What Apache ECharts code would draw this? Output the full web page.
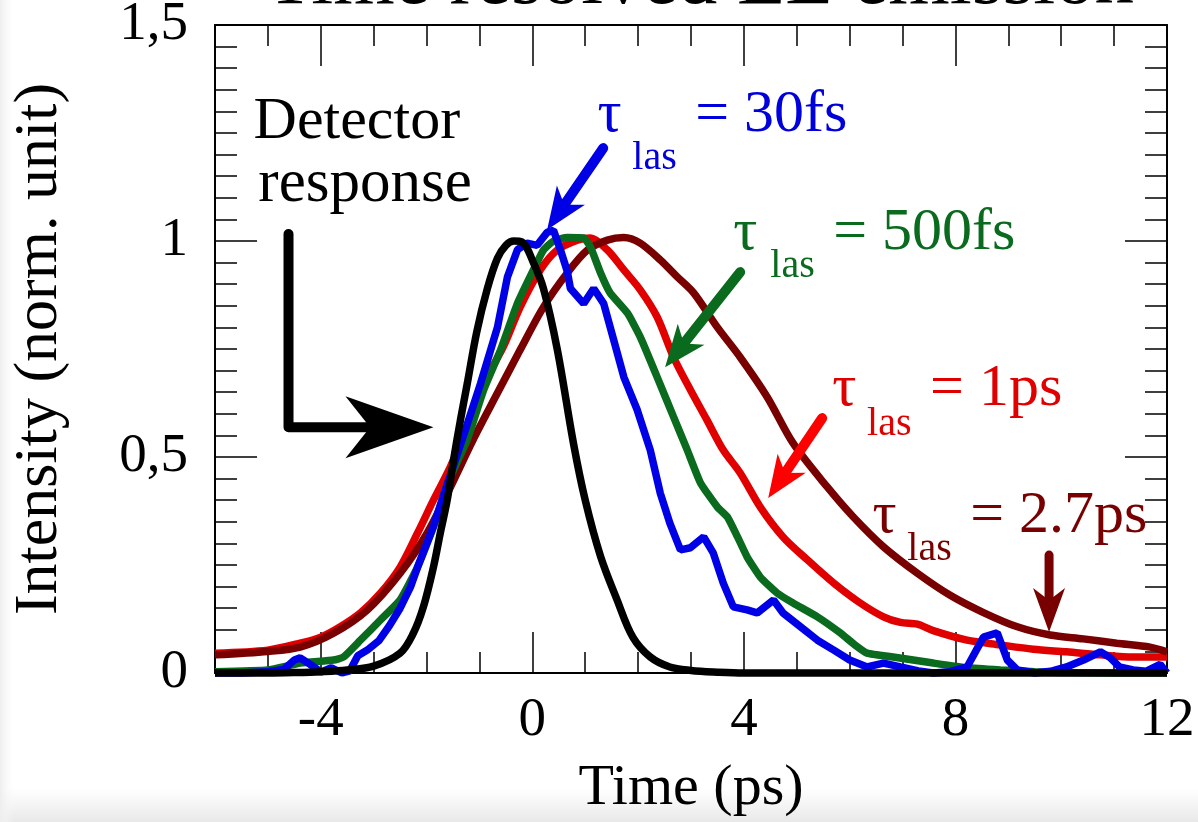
<!DOCTYPE html>
<html><head><meta charset="utf-8">
<script src="https://cdn.jsdelivr.net/npm/echarts@6/dist/echarts.min.js"></script>
<style>html,body{margin:0;padding:0;background:#fff;overflow:hidden;}#c{width:1198px;height:822px;}</style>
</head><body><div id="c"></div><script>
const FONT = 'Liberation Serif';

// ---- tick labels ----
const xMajorTicks = [-4, 0, 4, 8, 12];
const xLabelTicks = [-4, 0, 4, 8, 12];

// ---- detector response (black) ----
const detT = [-6,-5,-4.5,-4,-3.5,-3,-2.5,-2.25,-2.06,-1.87,-1.74,-1.61,-1.49,-1.36,-1.23,-1.05,-0.85,-0.66,-0.5,-0.35,-0.2,0.02,0.21,0.47,0.78,1.0,1.29,1.6,1.9,2.23,2.6,3.0,3.5,4,6,8,10,12];
const detI = [0,0,0.001,0.003,0.007,0.016,0.046,0.092,0.153,0.245,0.324,0.40,0.493,0.585,0.67,0.79,0.89,0.96,0.99,1.0,0.998,0.95,0.89,0.75,0.53,0.40,0.27,0.17,0.083,0.037,0.014,0.006,0.002,0,0,0,0,0];

// ---- tau_las = 30 fs (blue) ----
const fs30T = [-6,-5.5,-5,-4.7,-4.5,-4.39,-4.2,-4.0,-3.8,-3.6,-3.45,-3.3,-3.12,-2.9,-2.7,-2.5,-2.3,-2.17,-1.87,-1.6,-1.3,-0.98,-0.66,-0.47,-0.28,-0.1,0.09,0.28,0.4,0.53,0.66,0.72,0.97,1.16,1.35,1.54,1.73,1.98,2.23,2.42,2.6,2.8,2.99,3.24,3.42,3.61,3.8,4.06,4.25,4.56,4.74,5.07,5.39,5.7,6.0,6.33,6.64,6.96,7.3,7.58,7.9,8.22,8.53,8.79,8.98,9.17,9.5,9.8,10.1,10.42,10.74,10.93,11.1,11.36,11.6,11.87,12];
const fs30I = [0,0,0.003,0.008,0.03,0.035,0.02,0.002,0.012,0,0.005,0.04,0.053,0.075,0.11,0.15,0.2,0.245,0.34,0.44,0.55,0.67,0.80,0.917,0.98,0.995,0.99,1.02,1.025,0.98,0.93,0.89,0.855,0.89,0.855,0.77,0.685,0.61,0.516,0.416,0.347,0.285,0.29,0.315,0.278,0.208,0.153,0.146,0.139,0.169,0.139,0.107,0.076,0.053,0.03,0.014,0.023,0.014,0.005,0,0.003,0.014,0.083,0.093,0.03,0.007,0,0.004,0.014,0.03,0.049,0.035,0.014,0.007,0.004,0.02,0];

// ---- tau_las = 500 fs (green) ----
const fs500T = [-6,-5,-4.39,-3.76,-3.57,-3.25,-2.87,-2.5,-2.17,-1.87,-1.6,-1.23,-0.92,-0.6,-0.28,0.02,0.21,0.4,0.66,0.97,1.1,1.29,1.47,1.8,2.04,2.36,2.67,2.93,3.18,3.5,3.69,3.88,4.06,4.31,4.63,4.93,5.39,5.82,6.1,6.33,6.82,7.58,8.22,8.85,9.5,10,11,12];
const fs500I = [0.003,0.007,0.023,0.03,0.037,0.076,0.123,0.169,0.245,0.338,0.44,0.54,0.655,0.748,0.856,0.933,0.979,1.0,1.008,1.007,0.986,0.926,0.88,0.833,0.778,0.685,0.593,0.516,0.44,0.384,0.361,0.315,0.269,0.222,0.185,0.162,0.13,0.093,0.065,0.046,0.037,0.023,0.012,0.007,0.003,0.001,0,0];

// ---- tau_las = 1 ps (red) ----
const ps1T = [-6,-5,-4.39,-4,-3.63,-3.25,-2.87,-2.5,-2.17,-1.87,-1.55,-1.23,-0.92,-0.55,-0.23,0.15,0.47,0.85,1.1,1.42,1.73,2.04,2.36,2.67,2.99,3.3,3.61,3.93,4.31,4.74,5.2,5.7,6.2,6.64,6.96,7.28,7.58,8.22,8.85,9.47,10.1,10.74,11.36,12];
const ps1I = [0.046,0.053,0.069,0.083,0.107,0.139,0.185,0.245,0.324,0.40,0.477,0.57,0.67,0.755,0.847,0.933,0.979,1.002,1.007,0.979,0.933,0.887,0.824,0.731,0.655,0.586,0.516,0.463,0.384,0.315,0.262,0.208,0.162,0.13,0.117,0.113,0.098,0.076,0.065,0.055,0.049,0.042,0.037,0.037];

// ---- tau_las = 2.7 ps (dark red) ----
const ps27T = [-6,-5,-4.39,-3.76,-3.12,-2.5,-1.99,-1.55,-1.12,-0.66,-0.23,0.21,0.66,1.04,1.42,1.73,2.04,2.42,2.74,3.05,3.5,3.93,4.44,4.93,5.58,6.07,6.64,7.28,7.9,8.53,9.17,9.79,10.42,11.05,11.68,12];
const ps27I = [0.042,0.05,0.06,0.092,0.146,0.231,0.324,0.43,0.54,0.648,0.748,0.847,0.926,0.979,1.002,1.008,0.995,0.956,0.917,0.88,0.80,0.731,0.639,0.532,0.43,0.361,0.292,0.231,0.18,0.14,0.107,0.088,0.079,0.069,0.06,0.049];

// ---- annotation texts: [t, intensity] of baseline-left, text, size, color ----
const annotTexts = [
  [-5.27, 1.227, 'Detector', 60, '#000000'],
  [-5.18, 1.083, 'response', 61, '#000000'],
  [1.23, 1.245, 'τ', 60, '#0000dc'], [1.89, 1.160, 'las', 40, '#0000dc'], [3.08, 1.245, '= 30fs', 60, '#0000dc'],
  [3.80, 0.972, 'τ', 60, '#0a6a1e'], [4.50, 0.910, 'las', 40, '#0a6a1e'], [5.69, 0.972, '= 500fs', 60, '#0a6a1e'],
  [5.67, 0.609, 'τ', 60, '#e00000'], [6.33, 0.544, 'las', 40, '#e00000'], [7.52, 0.609, '= 1ps', 60, '#e00000'],
  [6.43, 0.315, 'τ', 60, '#780000'], [7.09, 0.255, 'las', 40, '#780000'], [8.28, 0.315, '= 2.7ps', 60, '#780000']
];
// ---- annotation arrows: points (last = tip), color, head length, half width, shaft width ----
const annotArrows = [
  [[[-4.61, 1.016], [-4.61, 0.569], [-1.87, 0.569]], '#000000', 88, 31, 10],
  [[[1.34, 1.215], [0.28, 1.026]], '#0000e6', 42, 17, 10],
  [[[3.93, 0.928], [2.51, 0.708]], '#0a6a1e', 42, 17, 10],
  [[[5.48, 0.590], [4.46, 0.405]], '#ff0000', 42, 17, 10],
  [[[9.77, 0.273], [9.77, 0.095]], '#780000', 44, 16, 9]
];

const zip = (t, v) => t.map((x, i) => [x, v[i]]);
const chart = echarts.init(document.getElementById('c'), null, {renderer: 'canvas'});

const tickStyle = {color: '#000', width: 1.5};
const gridPos = {left: 215, right: 31, top: 25, bottom: 149, containLabel: false, outerBoundsMode: 'none'};
function xMajor(pos, withLabel) {
  return {
    type: 'value', gridIndex: 0, position: pos, min: -6, max: 12, interval: 1,
    axisLine: {show: true, onZero: false, lineStyle: {color: '#000', width: 2}},
    axisTick: {show: true, inside: true, length: 41, customValues: xMajorTicks, lineStyle: tickStyle},
    axisLabel: withLabel ? {show: true, customValues: xLabelTicks, margin: 20, color: '#000', fontFamily: FONT, fontSize: 55} : {show: false},
    splitLine: {show: false},
    name: withLabel ? 'Time (ps)' : '', nameLocation: 'middle', nameGap: 87,
    nameTextStyle: {color: '#000', fontFamily: FONT, fontSize: 58}
  };
}
function xMinor(pos) {
  return {
    type: 'value', gridIndex: 1, position: pos, min: -6, max: 12, interval: 1,
    axisLine: {show: false, onZero: false},
    axisTick: {show: true, inside: true, length: 21, lineStyle: tickStyle},
    axisLabel: {show: false}, splitLine: {show: false}
  };
}
function yAx(pos, withLabel) {
  return {
    type: 'value', gridIndex: 0, position: pos, min: 0, max: 1.5, interval: 0.5,
    axisLine: {show: true, onZero: false, lineStyle: {color: '#000', width: 2}},
    axisTick: {show: true, inside: true, length: 42, lineStyle: tickStyle},
    minorTick: {show: true, splitNumber: 10, length: 22, lineStyle: tickStyle},
    axisLabel: withLabel ? {show: true, margin: 27, padding: [16, 0, 0, 0], color: '#000', fontFamily: FONT, fontSize: 55,
      formatter: v => String(v).replace('.', ',')} : {show: false},
    splitLine: {show: false}, minorSplitLine: {show: false},
    name: withLabel ? 'Intensity (norm. unit)' : '', nameLocation: 'middle', nameGap: 144,
    nameTextStyle: {color: '#000', fontFamily: FONT, fontSize: 62}
  };
}
function line(name, t, v, color, smooth, z) {
  return {
    type: 'line', name: name, xAxisIndex: 0, yAxisIndex: 0, data: zip(t, v),
    symbol: 'none', showSymbol: false, smooth: smooth, clip: false, z: z,
    lineStyle: {color: color, width: 7.5},
    itemStyle: {color: color},
    emphasis: {disabled: true}
  };
}

chart.setOption({
  animation: false,
  backgroundColor: '#ffffff',
  grid: [Object.assign({}, gridPos), Object.assign({}, gridPos)],
  xAxis: [xMajor('bottom', true), xMajor('top', false), xMinor('bottom'), xMinor('top')],
  yAxis: [yAx('left', true), yAx('right', false),
    {type: 'value', gridIndex: 1, min: 0, max: 1.5, show: false}],
  series: [
    line('τlas = 1ps', ps1T, ps1I, '#e00000', 0.3, 2),
    line('τlas = 2.7ps', ps27T, ps27I, '#780000', 0.3, 3),
    line('τlas = 500fs', fs500T, fs500I, '#0a6a1e', 0.15, 4),
    line('τlas = 30fs', fs30T, fs30I, '#0000e6', false, 5),
    line('Detector response', detT, detI, '#000000', 0.35, 6),
    {type: 'line', xAxisIndex: 2, yAxisIndex: 2, data: [], symbol: 'none'}
  ]
});

function px(t, v) { return chart.convertToPixel({gridIndex: 0}, [t, v]); }
function textEl(str, x, baseline, size, color, align, z) {
  return {type: 'text', z: z, silent: true, x: 0, y: 0,
    style: {text: str, x: x, y: baseline - 0.3375 * size, fontSize: size, fontFamily: FONT, fill: color,
      align: align, textAlign: align, verticalAlign: 'middle', textVerticalAlign: 'middle', lineHeight: size}};
}
const graphics = [];
// page edge shading from the photographed original
graphics.push({type: 'rect', z: -10, silent: true, shape: {x: 0, y: 788, width: 1198, height: 34},
  style: {fill: new echarts.graphic.LinearGradient(0, 0, 0, 1, [{offset: 0, color: 'rgba(236,236,236,0)'}, {offset: 1, color: 'rgba(232,232,232,1)'}])}});
graphics.push({type: 'rect', z: -10, silent: true, shape: {x: 0, y: 0, width: 14, height: 822},
  style: {fill: new echarts.graphic.LinearGradient(0, 0, 1, 0, [{offset: 0, color: 'rgba(238,238,238,1)'}, {offset: 1, color: 'rgba(250,250,250,0)'}])}});
// chart title (cut by the top edge in the original)
graphics.push(textEl('Time resolved EL emission', 700, 9, 79, '#000', 'center', 50));
annotTexts.forEach(a => {
  const p = px(a[0], a[1]);
  graphics.push(textEl(a[2], p[0], p[1], a[3], a[4], 'left', 60));
});
annotArrows.forEach(a => {
  const pts = a[0].map(q => px(q[0], q[1]));
  const color = a[1], L = a[2], W = a[3], w = a[4];
  const tip = pts[pts.length - 1], prev = pts[pts.length - 2];
  let dx = tip[0] - prev[0], dy = tip[1] - prev[1];
  const len = Math.hypot(dx, dy); dx /= len; dy /= len;
  const nx = -dy, ny = dx;
  const bx = tip[0] - L * dx, by = tip[1] - L * dy;
  const notch = [tip[0] - 0.72 * L * dx, tip[1] - 0.72 * L * dy];
  const shaftEnd = [tip[0] - 0.6 * L * dx, tip[1] - 0.6 * L * dy];
  graphics.push({type: 'polyline', z: 60, shape: {points: pts.slice(0, -1).concat([shaftEnd])},
    style: {stroke: color, lineWidth: w, lineCap: 'round', lineJoin: 'round', fill: null}});
  graphics.push({type: 'polygon', z: 60, shape: {points: [tip, [bx + W * nx, by + W * ny], notch, [bx - W * nx, by - W * ny]]},
    style: {fill: color}});
});
chart.setOption({graphic: graphics});
</script></body></html>
